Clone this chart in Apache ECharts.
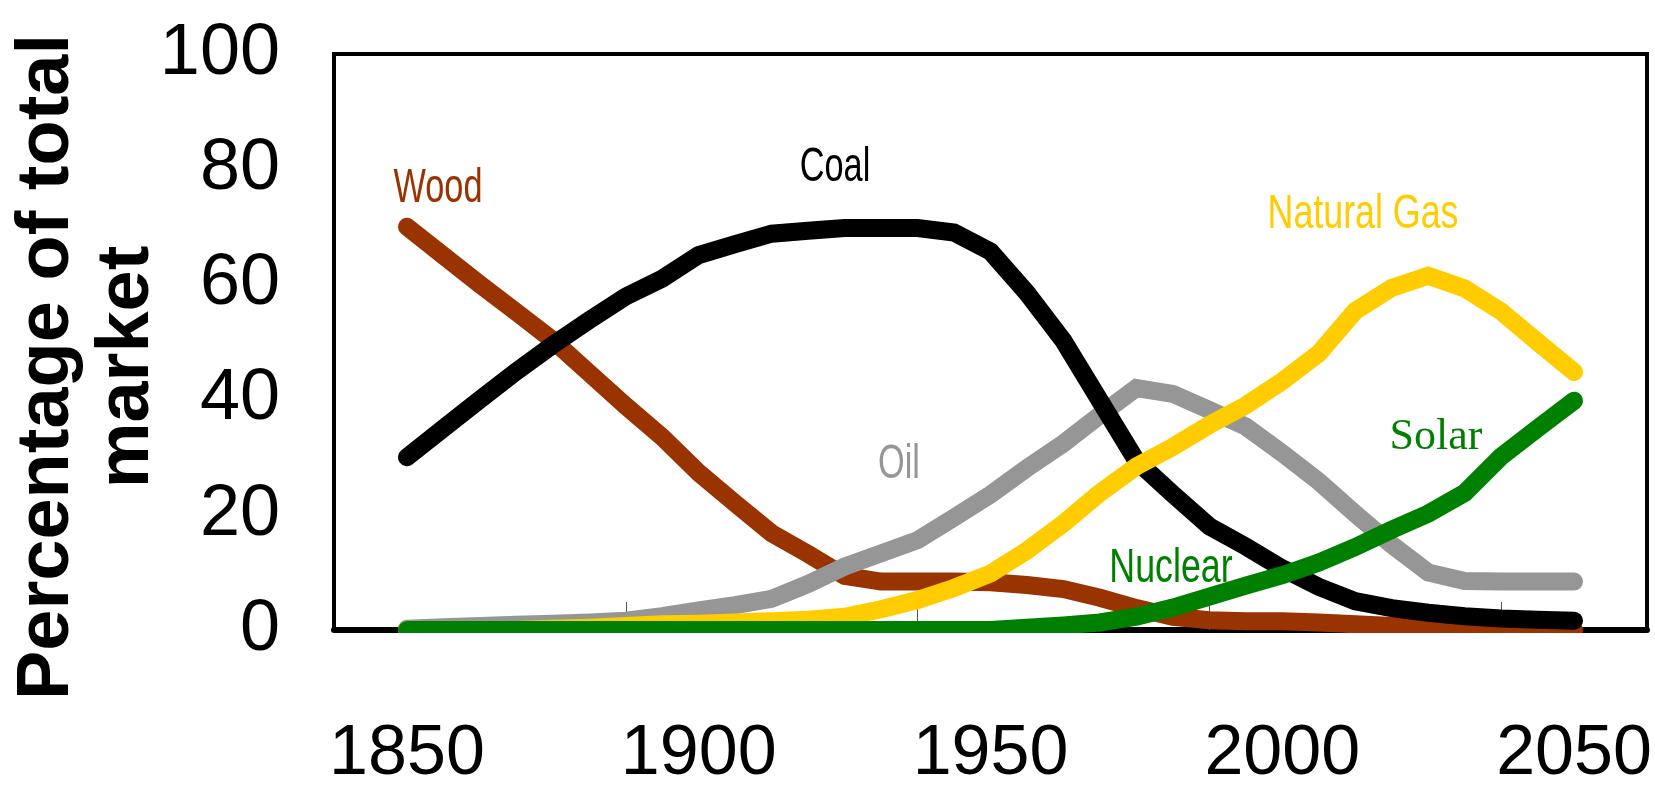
<!DOCTYPE html>
<html>
<head>
<meta charset="utf-8">
<script src="https://cdn.jsdelivr.net/npm/echarts@6/dist/echarts.min.js"></script>
<style>
    html, body { margin: 0; padding: 0; background: #fff; }
    #main { width: 1655px; height: 788px; }
</style>
</head>
<body>
<div id="main"></div>
<script>
// 能源市场份额（%），每 6.25 年一个点
var years = [1850, 1856.25, 1862.5, 1868.75, 1875, 1881.25, 1887.5, 1893.75,
    1900, 1906.25, 1912.5, 1918.75, 1925, 1931.25, 1937.5, 1943.75,
    1950, 1956.25, 1962.5, 1968.75, 1975, 1981.25, 1987.5, 1993.75,
    2000, 2006.25, 2012.5, 2018.75, 2025, 2031.25, 2037.5, 2043.75, 2050];

var wood = [70, 65, 60, 55.2, 50.3, 44.6, 38.9, 33.5,
    27.3, 22, 16.8, 13.2, 9.4, 8.4, 8.4, 8.4,
    8.3, 7.8, 7.1, 5.6, 3.8, 2.3, 1.7, 1.5,
    1.5, 1.3, 1, 0.7, 0.4, 0, 0, 0, 0];
var coal = [30, 35, 40, 44.9, 49.5, 53.8, 57.9, 61,
    65.1, 67, 68.8, 69.3, 69.8, 69.8, 69.8, 69,
    65.7, 58.5, 50.2, 39.8, 29.4, 23.6, 18, 14.5,
    10.7, 7.5, 5, 3.8, 3, 2.4, 2, 1.8, 1.6];
var oil = [0.2, 0.5, 0.7, 0.9, 1.1, 1.3, 1.6, 2.4,
    3.4, 4.3, 5.4, 8, 11, 13.3, 15.6, 19.5,
    23.5, 28.1, 32.4, 37.3, 42, 41, 38.2, 35.3,
    30.7, 25.8, 20.2, 14.8, 10, 8.5, 8.4, 8.4, 8.4];
var gas = [0, 0, 0, 0, 0.2, 0.4, 0.7, 1,
    1.1, 1.3, 1.5, 1.8, 2.3, 3.6, 5.2, 7.3,
    9.8, 13.8, 18.5, 23.8, 28.4, 31.8, 35.6, 39,
    43.2, 48, 55.4, 59.4, 61.5, 59.3, 55.3, 50, 44.8];
var solar = [0, 0, 0, 0, 0, 0, 0, 0,
    0, 0, 0, 0, 0, 0, 0, 0,
    0, 0.4, 0.8, 1.3, 2.3, 3.9, 5.8, 7.7,
    9.5, 11.7, 14.4, 17.4, 20.2, 23.8, 30.1, 35, 39.8];

var yearLabels = [1850, 1900, 1950, 2000, 2050];
var yearTicks = [1887.5, 1937.5, 1987.5, 2037.5];

function pairs(values) {
    return values.map(function (v, i) { return [years[i], v]; });
}

function energyLine(name, values, color) {
    return {
        name: name,
        type: 'line',
        data: pairs(values),
        showSymbol: false,
        symbol: 'none',
        animation: false,
        lineStyle: {
            color: color,
            width: 18,
            cap: 'round',
            join: 'miter'
        }
    };
}

function tag(text, x, y, color, font, sx) {
    return {
        type: 'text',
        x: x,
        y: y,
        scaleX: sx,
        z: 100,
        style: {
            text: text,
            fill: color,
            font: font,
            textAlign: 'center',
            textVerticalAlign: 'middle'
        }
    };
}

var sansFamily = "'Liberation Sans', Arial, sans-serif";
var sansLabel = "49px 'Liberation Sans', Arial, sans-serif";

var chart = echarts.init(document.getElementById('main'));
var option = {
    backgroundColor: '#fff',
    animation: false,
    grid: {
        left: 334,
        right: 8,
        top: 54,
        bottom: 158,
        show: true,
        borderColor: '#000',
        borderWidth: 4,
        outerBoundsMode: 'none'
    },
    xAxis: {
        type: 'value',
        min: 1837.5,
        max: 2062.5,
        splitLine: { show: false },
        axisLine: {
            lineStyle: { color: '#000', width: 6 }
        },
        axisTick: {
            show: true,
            inside: true,
            length: 28,
            customValues: yearTicks,
            lineStyle: { color: '#555', width: 1 }
        },
        axisLabel: {
            customValues: yearLabels,
            formatter: function (v) { return String(v); },
            margin: 90,
            color: '#000',
            fontSize: 70,
            fontFamily: sansFamily
        }
    },
    yAxis: {
        type: 'value',
        min: 0,
        max: 100,
        interval: 20,
        name: 'Percentage of total\nmarket',
        nameLocation: 'middle',
        nameRotate: 90,
        nameGap: 166,
        nameMoveOverlap: false,
        nameTextStyle: {
            color: '#000',
            fontSize: 74,
            fontWeight: 'bold',
            lineHeight: 80,
            fontFamily: sansFamily,
            padding: [0, 50, 0, 0]
        },
        splitLine: { show: false },
        axisLine: { show: false },
        axisTick: { show: false },
        axisLabel: {
            margin: 54,
            color: '#000',
            fontSize: 72,
            fontFamily: sansFamily
        }
    },
    series: [
        energyLine('Wood', wood, '#993300'),
        energyLine('Oil', oil, '#969696'),
        energyLine('Coal', coal, '#000000'),
        energyLine('Natural Gas', gas, '#ffcc00'),
        energyLine('Solar', solar, '#008000')
    ],
    graphic: [
        // 遮住落在横轴下方的线条
        {
            type: 'rect',
            z: 90,
            shape: { x: 337, y: 633, width: 1307, height: 20 },
            style: { fill: '#fff' }
        },
        tag('Wood', 438, 188, '#993300', sansLabel, 0.7),
        tag('Coal', 835, 167, '#000000', sansLabel, 0.7),
        tag('Oil', 899, 464, '#969696', sansLabel, 0.7),
        tag('Natural Gas', 1363, 214, '#ffcc00', sansLabel, 0.73),
        tag('Nuclear', 1171, 568, '#008000', sansLabel, 0.73),
        tag('Solar', 1436, 437, '#008000', "44px 'Liberation Serif', 'Times New Roman', serif", 1)
    ]
};
chart.setOption(option);
</script>
</body>
</html>
